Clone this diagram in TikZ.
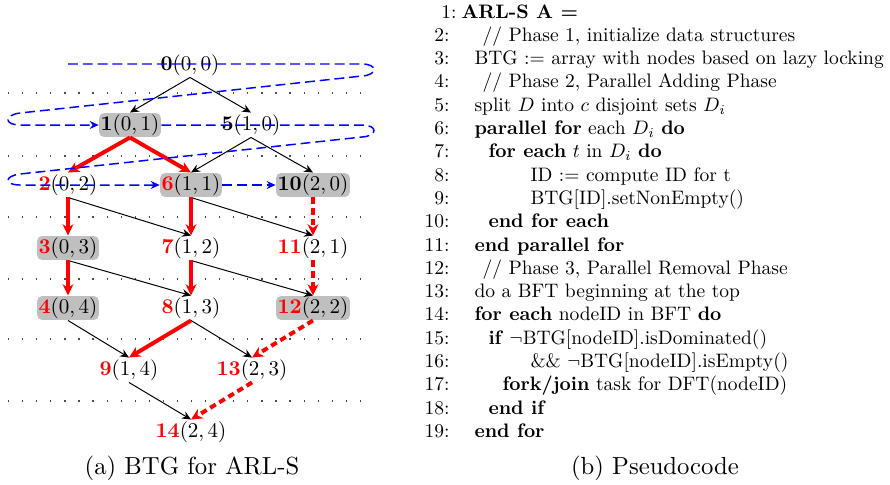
\documentclass[tikz,border=0pt]{standalone}
\usepackage{graphicx}
\usetikzlibrary{arrows.meta}
\newcommand\rlab[2]{\scalebox{0.85}{\textcolor{red}{$\mathbf{#1}$}$#2$}}
\newcommand\blab[2]{\scalebox{0.85}{$\mathbf{#1}#2$}}
\newcommand\cs[1]{\scalebox{0.79}{#1}}
\begin{document}
\begin{tikzpicture}[x=0.405pt,y=-0.405pt,
  lbl/.style={inner sep=0.6pt,font=\normalsize,rounded corners=2pt},
  gr/.style={lbl,fill=gray!50},
  blk/.style={-{Stealth[length=3.6pt,width=3.2pt]},line width=0.4pt},
  redarr/.style={-{Stealth[length=4.6pt,width=4.4pt]},red,line width=1.6pt},
  reddash/.style={redarr,dash pattern=on 2.6pt off 1.7pt},
  bluearr/.style={blue,line width=0.6pt,dash pattern=on 4pt off 2pt,-{Stealth[length=3.6pt,width=3.2pt]}},
  dotline/.style={line width=0.5pt,dash pattern=on 0.5pt off 5.2pt,black!70},
  code/.style={anchor=base west,inner sep=0pt,font=\normalsize},
  num/.style={anchor=base east,inner sep=0pt,font=\normalsize},
  captxt/.style={inner sep=0pt,font=\normalsize}
]
\useasboundingbox (0,0) rectangle (890,484);
% dotted level separators
\foreach \yy in {93,156,217,279,339,401} \draw[dotline] (8,\yy) -- (372,\yy);
% nodes
\node[lbl] (n0) at (190,65) {\blab{0}{(0,0)}};
\node[gr]  (n1) at (130,125) {\blab{1}{(0,1)}};
\node[lbl] (n5) at (251,125) {\blab{5}{(1,0)}};
\node[lbl] (n2) at (68,185) {\rlab{2}{(0,2)}};
\node[gr]  (n6) at (191,185) {\rlab{6}{(1,1)}};
\node[gr]  (n10) at (313,185) {\blab{10}{(2,0)}};
\node[gr]  (n3) at (68,248) {\rlab{3}{(0,3)}};
\node[lbl] (n7) at (191,248) {\rlab{7}{(1,2)}};
\node[lbl] (n11) at (313,248) {\rlab{11}{(2,1)}};
\node[gr]  (n4) at (68,308) {\rlab{4}{(0,4)}};
\node[lbl] (n8) at (191,308) {\rlab{8}{(1,3)}};
\node[gr]  (n12) at (313,308) {\rlab{12}{(2,2)}};
\node[lbl] (n9) at (129,370) {\rlab{9}{(1,4)}};
\node[lbl] (n13) at (252,370) {\rlab{13}{(2,3)}};
\node[lbl] (n14) at (191,432) {\rlab{14}{(2,4)}};
% black edges
\draw[blk] (n0.south) -- (n1.north);
\draw[blk] (n0.south) -- (n5.north);
\draw[blk] (n5.south) -- (n6.north);
\draw[blk] (n5.south) -- (n10.north);
\draw[blk] (n2.south) -- (n7.north);
\draw[blk] (n6.south) -- (n11.north);
\draw[blk] (n3.south) -- (n8.north);
\draw[blk] (n7.south) -- (n12.north);
\draw[blk] (n4.south) -- (n9.north);
\draw[blk] (n8.south) -- (n13.north);
\draw[blk] (n9.south) -- (n14.north);
% red edges
\draw[redarr] (n1.south) -- (n2.north);
\draw[redarr] (n1.south) -- (n6.north);
\draw[redarr] (n2.south) -- (n3.north);
\draw[redarr] (n3.south) -- (n4.north);
\draw[redarr] (n6.south) -- (n7.north);
\draw[redarr] (n7.south) -- (n8.north);
\draw[redarr] (n8.south) -- (n9.north);
\draw[reddash] (n10.south) -- (n11.north);
\draw[reddash] (n11.south) -- (n12.north);
\draw[reddash] (n12.south) -- (n13.north);
\draw[reddash] (n13.south) -- (n14.north);
% blue traversal
\coordinate (bstart) at (68,64);
\draw[bluearr] (bstart) -- (362,64) .. controls (378,64) and (378,75) .. (362,76)
  -- (20,113) .. controls (4,115) and (4,125) .. (20,125) -- (n1.west);
\draw[bluearr] (n1.east) -- (362,125) .. controls (378,125) and (378,136) .. (362,137)
  -- (20,174) .. controls (4,176) and (4,185) .. (20,185) -- (n6.west);
\draw[bluearr] (n6.east) -- (n10.west);
% captions
\node[captxt] (capa) at (192,468) {(a) BTG for ARL-S};
\node[captxt] (capb) at (655,468) {(b) Pseudocode};
% pseudocode
\node[num] (l1n) at (457,{18}) {\cs{1:}};
\node[code] (l1) at (461,{18}) {\cs{\textbf{ARL-S A =}}};
\node[num] at (450,{18+23.3*1}) {\cs{2:}};
\node[code] at (482,{18+23.3*1}) {\cs{// Phase 1, initialize data structures}};
\node[num] at (450,{18+23.3*2}) {\cs{3:}};
\node[code] at (474,{18+23.3*2}) {\cs{BTG $:=$ array with nodes based on lazy locking}};
\node[num] at (450,{18+23.3*3}) {\cs{4:}};
\node[code] at (482,{18+23.3*3}) {\cs{// Phase 2, Parallel Adding Phase}};
\node[num] at (450,{18+23.3*4}) {\cs{5:}};
\node[code] at (474,{18+23.3*4}) {\cs{split $D$ into $c$ disjoint sets $D_i$}};
\node[num] at (450,{18+23.3*5}) {\cs{6:}};
\node[code] at (474,{18+23.3*5}) {\cs{\textbf{parallel for} each $D_i$ \textbf{do}}};
\node[num] at (450,{18+23.3*6}) {\cs{7:}};
\node[code] at (488,{18+23.3*6}) {\cs{\textbf{for each} $t$ in $D_i$ \textbf{do}}};
\node[num] at (450,{18+23.3*7}) {\cs{8:}};
\node[code] at (530,{18+23.3*7}) {\cs{ID $:=$ compute ID for t}};
\node[num] at (450,{18+23.3*8}) {\cs{9:}};
\node[code] at (530,{18+23.3*8}) {\cs{BTG[ID].setNonEmpty()}};
\node[num] at (450,{18+23.3*9}) {\cs{10:}};
\node[code] at (488,{18+23.3*9}) {\cs{\textbf{end for each}}};
\node[num] at (450,{18+23.3*10}) {\cs{11:}};
\node[code] at (474,{18+23.3*10}) {\cs{\textbf{end parallel for}}};
\node[num] at (450,{18+23.3*11}) {\cs{12:}};
\node[code] at (482,{18+23.3*11}) {\cs{// Phase 3, Parallel Removal Phase}};
\node[num] at (450,{18+23.3*12}) {\cs{13:}};
\node[code] at (474,{18+23.3*12}) {\cs{do a BFT beginning at the top}};
\node[num] at (450,{18+23.3*13}) {\cs{14:}};
\node[code] at (474,{18+23.3*13}) {\cs{\textbf{for each} nodeID in BFT \textbf{do}}};
\node[num] at (450,{18+23.3*14}) {\cs{15:}};
\node[code] at (488,{18+23.3*14}) {\cs{\textbf{if} $\neg$BTG[nodeID].isDominated()}};
\node[num] at (450,{18+23.3*15}) {\cs{16:}};
\node[code] at (530,{18+23.3*15}) {\cs{\&\& $\neg$BTG[nodeID].isEmpty()}};
\node[num] at (450,{18+23.3*16}) {\cs{17:}};
\node[code] at (502,{18+23.3*16}) {\cs{\textbf{fork/join} task for DFT(nodeID)}};
\node[num] at (450,{18+23.3*17}) {\cs{18:}};
\node[code] at (488,{18+23.3*17}) {\cs{\textbf{end if}}};
\node[num] at (450,{18+23.3*18}) {\cs{19:}};
\node[code] at (474,{18+23.3*18}) {\cs{\textbf{end for}}};
\end{tikzpicture}
\end{document}
